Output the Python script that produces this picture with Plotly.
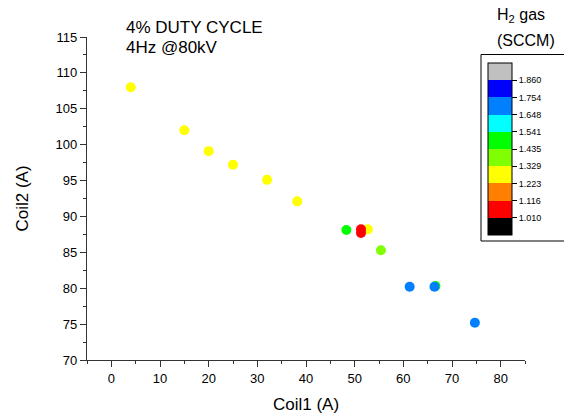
import plotly.graph_objects as go

# Data
coil1 = [4, 15, 20, 25, 32, 38.2, 48.3, 52.7, 51.3, 51.3, 55.4, 61.3, 66.6, 66.4, 74.7]
coil2 = [108, 102, 99.1, 97.2, 95.1, 92.1, 88.1, 88.2, 88.2, 87.7, 85.3, 80.2, 80.3, 80.2, 75.2]
h2gas = [1.26, 1.26, 1.26, 1.26, 1.26, 1.26, 1.49, 1.26, 1.06, 1.06, 1.38, 1.70, 1.49, 1.70, 1.70]

cb_ticks = [1.010, 1.116, 1.223, 1.329, 1.435, 1.541, 1.648, 1.754, 1.860]
cb_colors = ["#000000", "#FF0000", "#FF8000", "#FFFF00", "#80FF00",
             "#00FF00", "#00FFFF", "#0080FF", "#0000FF", "#C0C0C0"]

step = (cb_ticks[-1] - cb_ticks[0]) / (len(cb_ticks) - 1)
cmin = cb_ticks[0] - step
cmax = cb_ticks[-1] + step
n = len(cb_colors)
colorscale = []
for i, c in enumerate(cb_colors):
    colorscale.append([i / n, c])
    colorscale.append([(i + 1) / n, c])

# page offset (body margin) of 8px
OFF = 8
W, H = 572, 416
pw, ph = 438, 323
L, T = 87 - OFF, 37 - OFF
R, B = W - L - pw, H - T - ph

def px2x(p):
    return (p - OFF - L) / pw

def px2y(p):
    return (T + ph - (p - OFF)) / ph

font = "Liberation Sans, Arial, sans-serif"

fig = go.Figure()
fig.add_trace(go.Scatter(
    x=coil1, y=coil2, mode="markers",
    marker=dict(
        size=10, color=h2gas, colorscale=colorscale, cmin=cmin, cmax=cmax,
        line=dict(width=0),
        colorbar=dict(
            tickvals=[cb_ticks[0] + i * step for i in range(len(cb_ticks))],
            ticktext=["%.3f" % v for v in cb_ticks],
            ticks="outside", ticklen=5, tickwidth=1, tickcolor="#000",
            tickfont=dict(size=9, family=font, color="#000"),
            thickness=24, thicknessmode="pixels",
            len=172, lenmode="pixels",
            x=px2x(488), xanchor="left", xpad=0,
            y=px2y(149), yanchor="middle", ypad=0,
            outlinecolor="#000", outlinewidth=1,
        ),
    ),
    showlegend=False,
    hoverinfo="x+y",
))

fig.update_layout(
    width=W, height=H,
    margin=dict(l=L, r=R, t=T, b=B, autoexpand=False),
    paper_bgcolor="white", plot_bgcolor="white",
    font=dict(family=font, color="#000"),
    xaxis=dict(
        range=[-5, 85], tickvals=list(range(0, 81, 10)),
        ticks="outside", ticklen=6, tickwidth=1.2, tickcolor="#333",
        showline=True, linecolor="#333", linewidth=1.2,
        showgrid=False, zeroline=False, automargin=False,
        tickfont=dict(size=13, family=font),
        title=dict(text="Coil1 (A)", font=dict(size=17, family=font), standoff=13),
        minor=dict(tickvals=list(range(-5, 86, 10)), ticks="outside", ticklen=3,
                   tickcolor="#333", tickwidth=1.2, showgrid=False),
    ),
    yaxis=dict(
        range=[70, 115], tickvals=list(range(70, 116, 5)),
        ticks="outside", ticklen=6, tickwidth=1.2, tickcolor="#333",
        showline=True, linecolor="#333", linewidth=1.2,
        showgrid=False, zeroline=False, automargin=False,
        tickfont=dict(size=13, family=font),
        title=dict(text="Coil2 (A)", font=dict(size=17, family=font), standoff=22),
        minor=dict(tickvals=[70 + 2.5 * i for i in range(19)], ticks="outside",
                   ticklen=3, tickcolor="#333", tickwidth=1.2, showgrid=False),
    ),
    shapes=[dict(
        type="rect", xref="paper", yref="paper",
        x0=px2x(481), x1=px2x(580), y0=px2y(241), y1=px2y(54.5),
        line=dict(color="#000", width=1), fillcolor="rgba(0,0,0,0)",
    )],
    annotations=[
        dict(text="4% DUTY CYCLE", xref="paper", yref="paper",
             x=px2x(124), y=px2y(27), xanchor="left", yanchor="middle",
             showarrow=False, font=dict(size=17, family=font)),
        dict(text="4Hz @80kV", xref="paper", yref="paper",
             x=px2x(124), y=px2y(47), xanchor="left", yanchor="middle",
             showarrow=False, font=dict(size=17, family=font)),
        dict(text="H<sub>2</sub> gas", xref="paper", yref="paper",
             x=px2x(521), y=px2y(16), xanchor="center", yanchor="middle",
             showarrow=False, font=dict(size=16, family=font)),
        dict(text="(SCCM)", xref="paper", yref="paper",
             x=px2x(526), y=px2y(40), xanchor="center", yanchor="middle",
             showarrow=False, font=dict(size=16, family=font)),
    ],
)

fig.write_html("out.html")
